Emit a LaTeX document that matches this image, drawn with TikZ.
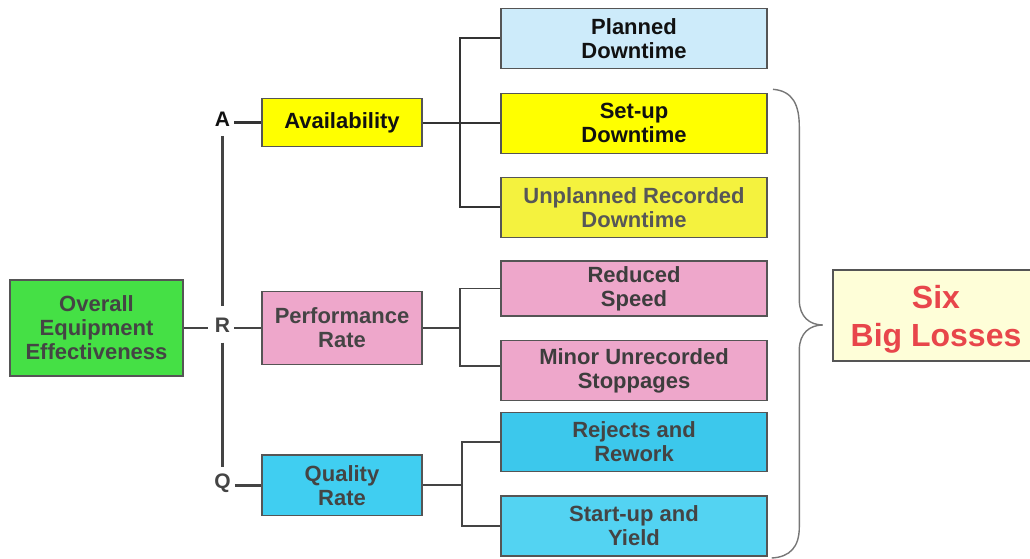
\documentclass[tikz,border=0pt]{standalone}
\usepackage{fontspec}
\setmainfont{Liberation Sans}
\definecolor{bordc}{HTML}{555555}
\definecolor{linec}{HTML}{333333}
\definecolor{txtdark}{HTML}{111111}
\definecolor{txtgray}{HTML}{444444}
\definecolor{cplanned}{HTML}{CDEBFA}
\definecolor{cyellow}{HTML}{FFFF00}
\definecolor{cunpl}{HTML}{F4F23E}
\definecolor{cpink}{HTML}{EEA7CB}
\definecolor{ccyan}{HTML}{40CEF1}
\definecolor{crej}{HTML}{3CC8EC}
\definecolor{cgreen}{HTML}{45E045}
\definecolor{ccream}{HTML}{FEFED8}
\definecolor{cred}{HTML}{E8464B}
\begin{document}
\begin{tikzpicture}[x=1pt,y=-1pt,
  box/.style={rectangle, draw=bordc, line width=1.1pt, inner sep=0pt, align=center,
    font={\bfseries\fontsize{22}{24}\selectfont}, text=txtgray},
  subbox/.style={box, minimum width=266pt},
  midbox/.style={box, minimum width=160pt},
  letter/.style={inner sep=0pt, text height=15pt, text depth=0pt,
    font={\bfseries\fontsize{21}{24}\selectfont}},
  conn/.style={draw=linec, line width=1.8pt},
  bracec/.style={draw=bordc!80, line width=1.4pt}]
\clip (0,0) rectangle (1030,559);
\fill[white] (0,0) rectangle (1030,559);

% main node
\node[box, fill=cgreen, minimum width=173pt, minimum height=96pt] (oee) at (96.5,328)
  {Overall\\Equipment\\Effectiveness};

% letters
\node[letter, text=txtdark] (A) at (222.5,119.2) {A};
\node[letter, text=txtgray] (R) at (222.5,325) {R};
\node[letter, text=txtgray] (Q) at (222.5,480.7) {Q};

% middle nodes
\node[midbox, fill=cyellow, text=txtdark, minimum height=48pt] (avail) at (342,122.7) {Availability};
\node[midbox, fill=cpink, minimum height=72.6pt] (perf) at (342,328) {Performance\\Rate};
\node[midbox, fill=ccyan, minimum height=60.7pt] (qual) at (342,485.3) {Quality\\Rate};

% loss nodes
\node[subbox, fill=cplanned, text=txtdark, minimum height=60pt] (planned) at (634,38.3) {Planned\\Downtime};
\node[subbox, fill=cyellow, text=txtdark, minimum height=60pt] (setup) at (634,123.2) {Set-up\\Downtime};
\node[subbox, fill=cunpl, text=txtgray!90, minimum height=60pt] (unpl) at (634,207.3) {Unplanned Recorded\\Downtime};
\node[subbox, fill=cpink, text=txtgray!90!black, minimum height=55pt] (reduced) at (634,288.5) {Reduced\\Speed};
\node[subbox, fill=cpink, text=txtgray!90!black, minimum height=60pt] (minor) at (634,370.8) {Minor Unrecorded\\Stoppages};
\node[subbox, fill=crej, minimum height=59.4pt] (rejects) at (634,442) {Rejects and\\Rework};
\node[subbox, fill=ccyan!90!white, minimum height=60pt] (startup) at (634,526) {Start-up and\\Yield};

% six big losses
\node[rectangle, draw=bordc, line width=1.1pt, fill=ccream, inner sep=0pt,
  minimum width=207pt, minimum height=91pt] (six) at (936.5,315.5) {};
\node[inner sep=0pt, align=center, text=cred,
  font={\bfseries\fontsize{32}{38}\selectfont}] (sixtext) at (936,319) {Six\\Big Losses};

% A-R-Q spine
\draw[conn, line width=2.2pt, draw=txtgray, shorten <=9pt, shorten >=11.5pt] (A.south) -- (R.north);
\draw[conn, line width=2.2pt, draw=txtgray, shorten <=10pt, shorten >=6.5pt] (R.south) -- (Q.north);

% letter connectors
\draw[conn, line width=2.6pt, shorten <=4pt] (avail.west -| A.east) -- (avail.west);
\draw[conn, line width=2.2pt, draw=txtgray, shorten >=7pt] (oee.east) -- (oee.east -| R.west);
\draw[conn, line width=2.2pt, draw=txtgray, shorten <=4pt] (perf.west -| R.east) -- (perf.west);
\draw[conn, line width=2.6pt, draw=txtgray, shorten <=4pt] (qual.west -| Q.east) -- (qual.west);

% branch junctions
\coordinate (aj) at (460,122.7);
\coordinate (pj) at (460,328);
\coordinate (qj) at (462.3,485);

\draw[conn] (avail.east) -- (avail.east -| setup.west);
\draw[conn] (planned.west) -| (aj) |- (unpl.west);
\draw[conn, draw=txtgray] (perf.east) -- (perf.east -| pj);
\draw[conn, draw=txtgray] (reduced.west) -| (pj) |- ([yshift=5pt]minor.west);
\draw[conn, draw=txtgray] (qual.east) -- (qual.east -| qj);
\draw[conn, draw=txtgray] (rejects.west) -| (qj) |- (startup.west);

% brace
\coordinate (btop) at (773,89.3);
\coordinate (btip) at (822.7,325);
\coordinate (bbot) at (771.7,558);
\draw[bracec] (btop) .. controls (793,91) and (799.3,105) .. (799.3,127)
  -- (799.3,300) .. controls (799.3,317) and (810,325) .. (btip)
  .. controls (810,325) and (799.3,333) .. (799.3,350)
  -- (799.3,527) .. controls (799.3,547) and (790,557) .. (bbot);
\end{tikzpicture}
\end{document}
